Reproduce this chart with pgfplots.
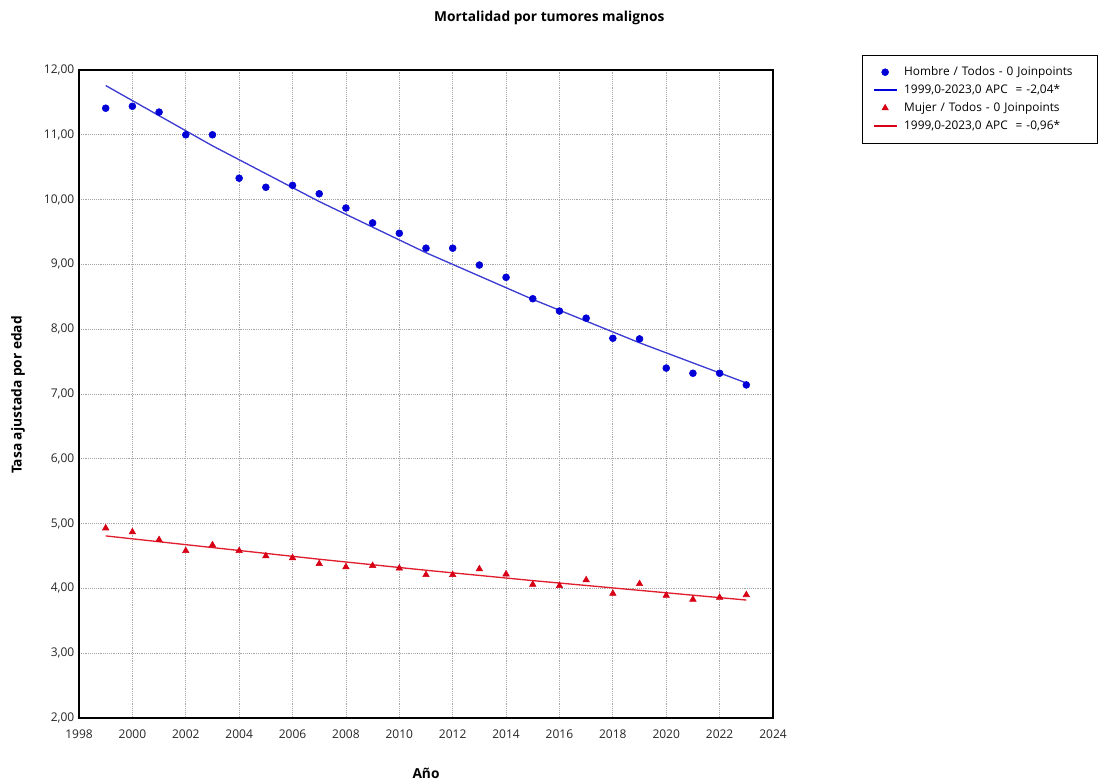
\documentclass[border=0pt]{standalone}
\usepackage{fontspec}
\setmainfont{Open Sans}
\usepackage{pgfplots}
\pgfplotsset{compat=1.18}
\definecolor{hpt}{RGB}{0,0,215}
\definecolor{hln}{RGB}{60,60,210}
\definecolor{mpt}{RGB}{215,0,20}
\definecolor{mln}{RGB}{225,30,45}
\begin{document}
\begin{tikzpicture}
\useasboundingbox (0,0) rectangle (824.25pt,588pt);
\begin{axis}[
  at={(59.25pt,49.5pt)}, anchor=south west,
  scale only axis, width=520.5pt, height=486pt,
  xmin=1998, xmax=2024, ymin=2, ymax=12,
  xtick={1998,2000,...,2024}, ytick={2,3,...,12},
  grid=major,
  grid style={densely dotted, gray!70, line width=0.6pt},
  major tick length=0pt,
  axis line style={black, line width=0.8pt},
  tick label style={font=\fontsize{9}{10}\selectfont, text=black!85},
  /pgf/number format/assume math mode=true,
  xticklabel style={/pgf/number format/1000 sep={}, yshift=-5.5pt},
  yticklabel style={/pgf/number format/.cd, fixed, fixed zerofill, precision=2, use comma},
  legend style={at={(rel axis cs:1.128,1.023)}, anchor=north west,
    draw=black, font=\fontsize{8.9}{10}\selectfont,
    row sep=1.2pt, column sep=3pt, inner xsep=8pt, inner ysep=6.5pt,
    nodes={text width=135pt}},
  legend cell align=left,
]
\addplot[only marks, mark=*, mark size=2.6pt, color=hpt] coordinates {
(1999,11.41) (2000,11.44) (2001,11.35) (2002,11.00) (2003,11.00)
(2004,10.33) (2005,10.19) (2006,10.22) (2007,10.09) (2008,9.87)
(2009,9.64) (2010,9.48) (2011,9.25) (2012,9.25) (2013,8.99)
(2014,8.80) (2015,8.47) (2016,8.28) (2017,8.17) (2018,7.86)
(2019,7.85) (2020,7.40) (2021,7.32) (2022,7.32) (2023,7.14)};
\addlegendentry{Hombre / Todos - 0 Joinpoints}
\addplot[no marks, color=hln, line width=1pt, legend image post style={line width=1.5pt, color=hpt}] coordinates {
(1999,11.76) (2003,10.83) (2007,9.97) (2011,9.18) (2015,8.46) (2019,7.79) (2023,7.17)};
\addlegendentry{1999,0-2023,0 APC\ \ = -2,04*}
\addplot[only marks, mark=triangle*, mark size=2.8pt, color=mpt] coordinates {
(1999,4.93) (2000,4.87) (2001,4.75) (2002,4.58) (2003,4.67)
(2004,4.58) (2005,4.50) (2006,4.47) (2007,4.38) (2008,4.33)
(2009,4.35) (2010,4.31) (2011,4.21) (2012,4.21) (2013,4.30)
(2014,4.22) (2015,4.06) (2016,4.04) (2017,4.13) (2018,3.92)
(2019,4.07) (2020,3.89) (2021,3.83) (2022,3.86) (2023,3.90)};
\addlegendentry{Mujer / Todos - 0 Joinpoints}
\addplot[no marks, color=mln, line width=1pt, legend image post style={line width=1.5pt, color=mpt}] coordinates {
(1999,4.81) (2003,4.63) (2007,4.45) (2011,4.28) (2015,4.12) (2019,3.97) (2023,3.82)};
\addlegendentry{1999,0-2023,0 APC\ \ = -0,96*}
\end{axis}
\node[font=\bfseries\fontsize{10.3}{12}\selectfont] at (412pt,574.5pt) {Mortalidad por tumores malignos};
\node[font=\bfseries\fontsize{10.3}{12}\selectfont, rotate=90] at (13.5pt,291.75pt) {Tasa ajustada por edad};
\node[font=\bfseries\fontsize{10.3}{12}\selectfont] at (319.5pt,8.25pt) {Año};
\end{tikzpicture}
\end{document}
